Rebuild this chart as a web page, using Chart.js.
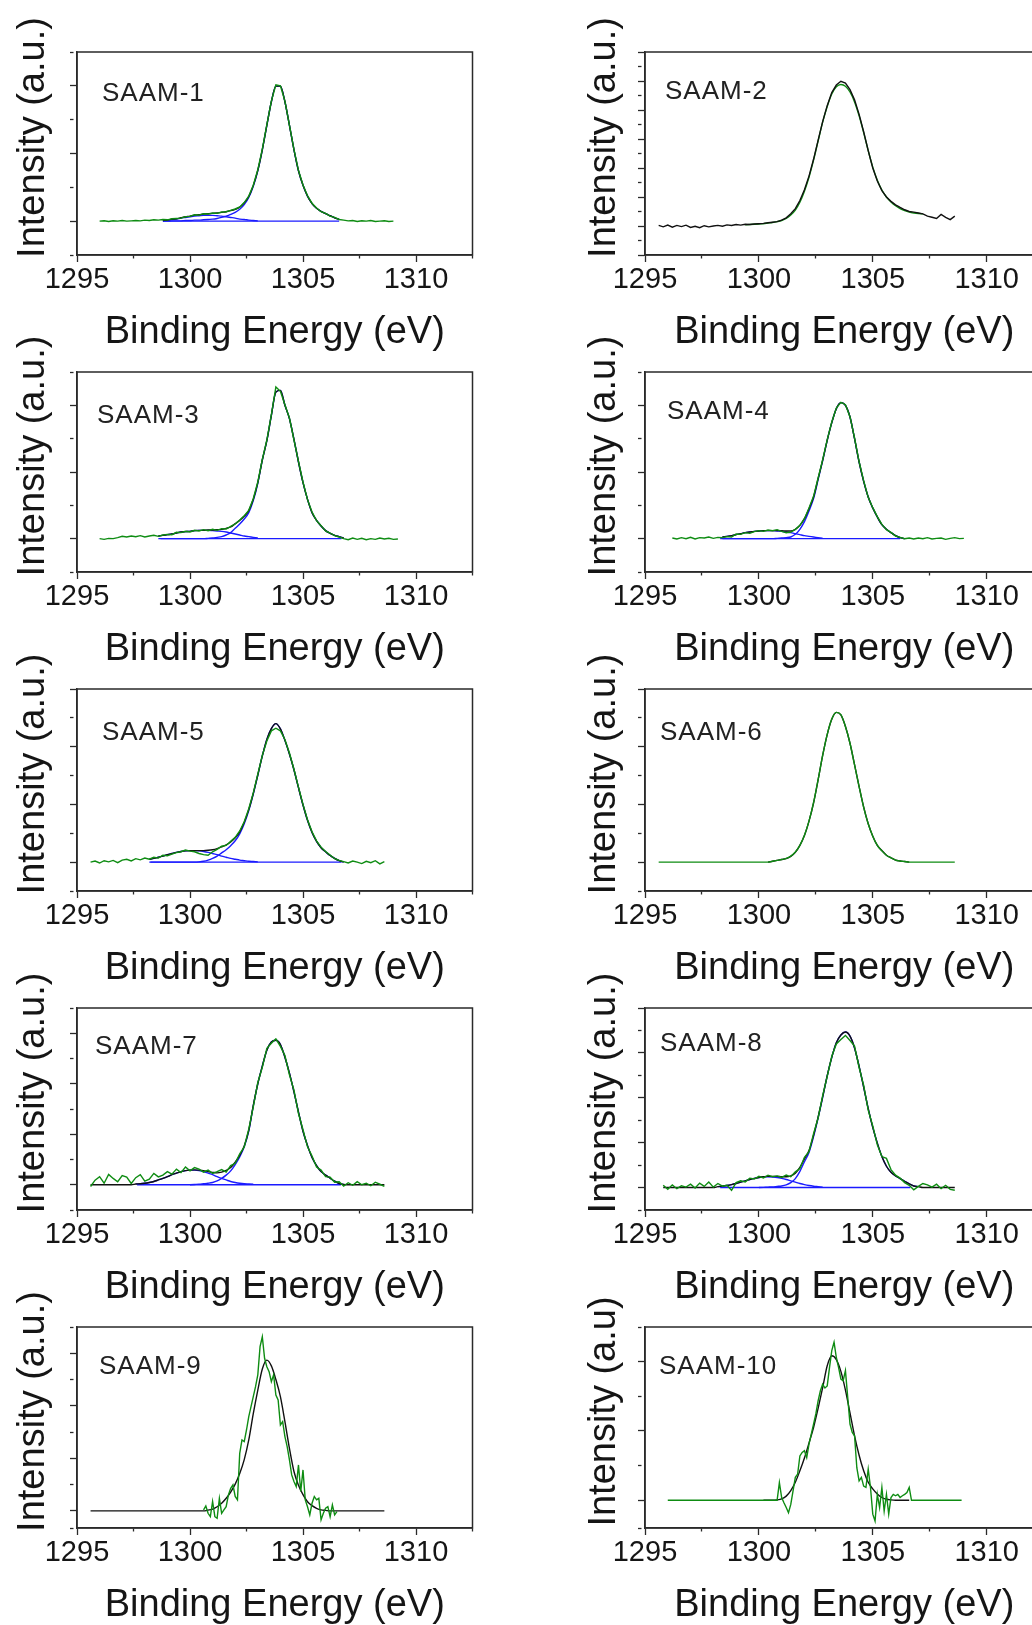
<!DOCTYPE html>
<html>
<head>
<meta charset="utf-8">
<title>SAAM XPS spectra</title>
<script src="https://cdn.jsdelivr.net/npm/chart.js@4.4.1/dist/chart.umd.min.js"></script>
<style>
  html, body { margin: 0; padding: 0; background: #fff; }
  #page { position: relative; width: 1032px; height: 1625px; overflow: hidden; background: #fff; }
  #page canvas { position: absolute; }
</style>
</head>
<body>
<div id="page"></div>
<script>
// binding energy sampling (eV)
const energyGrid = [
  1295.6, 1295.8, 1296.0, 1296.2, 1296.4, 1296.6, 1296.8, 1297.0, 1297.2, 1297.4,
  1297.6, 1297.8, 1298.0, 1298.2, 1298.4, 1298.6, 1298.8, 1299.0, 1299.2, 1299.4,
  1299.6, 1299.8, 1300.0, 1300.2, 1300.4, 1300.6, 1300.8, 1301.0, 1301.2, 1301.4,
  1301.6, 1301.8, 1302.0, 1302.2, 1302.4, 1302.6, 1302.8, 1303.0, 1303.2, 1303.4,
  1303.6, 1303.8, 1304.0, 1304.2, 1304.4, 1304.6, 1304.8, 1305.0, 1305.2, 1305.4,
  1305.6, 1305.8, 1306.0, 1306.2, 1306.4, 1306.6, 1306.8, 1307.0, 1307.2, 1307.4,
  1307.6, 1307.8, 1308.0, 1308.2, 1308.4, 1308.6, 1308.8, 1309.0, 1309.2
];
// finer sampling for the two noisy scans
const fineGrid = [
  1300.6, 1300.7, 1300.8, 1300.9, 1301.0, 1301.1, 1301.2, 1301.3, 1301.4, 1301.5,
  1301.6, 1301.7, 1301.8, 1301.9, 1302.0, 1302.1, 1302.2, 1302.3, 1302.4, 1302.5,
  1302.6, 1302.7, 1302.8, 1302.9, 1303.0, 1303.1, 1303.2, 1303.3, 1303.4, 1303.5,
  1303.6, 1303.7, 1303.8, 1303.9, 1304.0, 1304.1, 1304.2, 1304.3, 1304.4, 1304.5,
  1304.6, 1304.7, 1304.8, 1304.9, 1305.0, 1305.1, 1305.2, 1305.3, 1305.4, 1305.5,
  1305.6, 1305.7, 1305.8, 1305.9, 1306.0, 1306.1, 1306.2, 1306.3, 1306.4, 1306.5,
  1306.6, 1306.7, 1306.8
];
const BASE_LEVEL = 0;
const xTicks = { min: 1295, max: 1312.5, step: 2.5, labelEvery: 5 };

// SAAM-1 (raw from 1296.0, fit/components from 1298.8)
const saam1Raw = [0.00, 0.01, -0.01, 0.01, 0.00, 0.02, 0.00, 0.01, 0.02, 0.01, 0.03, 0.02, 0.04, 0.03,
  0.05, 0.04, 0.07, 0.08, 0.09, 0.13, 0.14, 0.19, 0.18, 0.22, 0.21, 0.24, 0.23, 0.27, 0.28, 0.32, 0.36, 0.42, 0.55, 0.74,
  1.06, 1.52, 2.13, 2.85, 3.55, 4.03, 4.00, 3.55, 2.84, 2.12, 1.50, 1.07, 0.75, 0.53, 0.39, 0.28, 0.23, 0.15, 0.11, 0.05,
  0.03, 0.01, 0.02, -0.01, 0.01, 0.00, 0.02, -0.01, 0.00, 0.01, -0.01, 0.00];
const saam1Fit = [0.02, 0.03, 0.06, 0.07, 0.10, 0.13, 0.15, 0.18, 0.19, 0.21, 0.22, 0.23, 0.24, 0.26, 0.28, 0.31, 0.35, 0.41, 0.54, 0.73,
  1.05, 1.50, 2.11, 2.83, 3.53, 3.99, 3.99, 3.53, 2.83, 2.11, 1.49, 1.06, 0.74, 0.52, 0.38, 0.29, 0.22, 0.16, 0.10, 0.05];
const saam1Main = [0, 0, 0.01, 0.01, 0.01, 0.02, 0.02, 0.03, 0.03, 0.04, 0.05, 0.06, 0.08, 0.11, 0.15, 0.20, 0.26, 0.35, 0.49, 0.70,
  1.03, 1.49, 2.11, 2.83, 3.53, 3.99, 3.99, 3.53, 2.83, 2.11, 1.49, 1.06, 0.74, 0.52, 0.38, 0.29, 0.22, 0.16, 0.10, 0.05];
const saam1Minor = [0.02, 0.03, 0.05, 0.06, 0.09, 0.11, 0.13, 0.15, 0.16, 0.17, 0.17, 0.17, 0.16, 0.15, 0.13, 0.11, 0.09, 0.06, 0.05, 0.03, 0.02, 0.01];
const saam1BaseEnds = [1298.8, 1306.6];

// SAAM-2 (raw from 1295.6, fit from 1299.4)
const saam2Raw = [0.02, -0.03, 0.03, -0.04, 0.02, -0.02, 0.03, -0.05, -0.01, -0.06, 0.01, -0.03, 0.00, 0.02, -0.01, 0.04, 0.02, 0.05, 0.03, 0.06,
  0.05, 0.07, 0.08, 0.09, 0.11, 0.13, 0.15, 0.20, 0.28, 0.42, 0.60, 0.88, 1.25, 1.72, 2.30, 2.95, 3.60, 4.15, 4.60, 4.86,
  4.99, 4.93, 4.70, 4.35, 3.85, 3.25, 2.60, 2.00, 1.55, 1.22, 1.00, 0.85, 0.73, 0.64, 0.56, 0.50, 0.48, 0.45, 0.42, 0.34,
  0.30, 0.26, 0.40, 0.30, 0.22, 0.34];
const saam2Fit = [0.04, 0.05, 0.06, 0.07, 0.08, 0.10, 0.12, 0.15, 0.19, 0.26, 0.38, 0.55, 0.82, 1.20, 1.68, 2.27, 2.93, 3.58, 4.12, 4.55,
  4.80, 4.88, 4.82, 4.62, 4.28, 3.80, 3.22, 2.60, 2.03, 1.58, 1.24, 1.00, 0.83, 0.70, 0.60, 0.53, 0.48, 0.45, 0.43, 0.42];

// SAAM-3 (raw from 1296.0, fit from 1298.6)
const saam3Raw = [0.00, -0.02, 0.01, 0.00, 0.03, 0.07, 0.05, 0.08, 0.06, 0.09, 0.05, 0.08, 0.10, 0.07,
  0.11, 0.13, 0.12, 0.19, 0.18, 0.22, 0.20, 0.25, 0.23, 0.27, 0.24, 0.28, 0.25, 0.30, 0.29, 0.37, 0.44, 0.56, 0.69, 0.85,
  1.20, 1.70, 2.38, 2.96, 3.72, 4.55, 4.42, 4.02, 3.62, 2.96, 2.32, 1.70, 1.17, 0.80, 0.54, 0.39, 0.23, 0.17, 0.09, 0.05,
  0.00, -0.03, 0.02, -0.02, 0.01, -0.03, 0.00, -0.02, 0.02, -0.01, 0.01, -0.02, -0.01];
const saam3Fit = [0.08, 0.10, 0.12, 0.14, 0.17, 0.20, 0.21, 0.22, 0.24, 0.25, 0.25, 0.26, 0.26, 0.27, 0.28, 0.31, 0.35, 0.45, 0.55, 0.67, 0.84,
  1.18, 1.68, 2.36, 2.94, 3.70, 4.40, 4.45, 4.00, 3.60, 2.98, 2.30, 1.68, 1.18, 0.78, 0.55, 0.38, 0.24, 0.16, 0.10, 0.06, 0.02];
const saam3Main = [0, 0, 0, 0, 0, 0, 0, 0, 0, 0, 0, 0.01, 0.02, 0.04, 0.06, 0.11, 0.18, 0.31, 0.44, 0.59, 0.78,
  1.14, 1.66, 2.36, 2.94, 3.70, 4.40, 4.45, 4.00, 3.60, 2.98, 2.30, 1.68, 1.18, 0.78, 0.55, 0.38, 0.24, 0.16, 0.10, 0.06, 0.02];
const saam3Minor = [0.08, 0.10, 0.12, 0.14, 0.17, 0.20, 0.21, 0.22, 0.24, 0.25, 0.25, 0.25, 0.24, 0.23, 0.22, 0.20, 0.17, 0.14, 0.11, 0.08, 0.06, 0.04, 0.02];
const saam3BaseEnds = [1298.7, 1306.7];

// SAAM-4 (raw from 1296.2, fit from 1298.4)
const saam4Raw = [0.02, -0.01, 0.03, 0.00, 0.04, -0.01, 0.03, 0.02, 0.05, 0.01, 0.04, 0.03, 0.06, 0.05,
  0.14, 0.13, 0.18, 0.16, 0.21, 0.24, 0.22, 0.26, 0.24, 0.27, 0.22, 0.18, 0.20, 0.28, 0.40, 0.60, 0.92, 1.27, 1.82, 2.37,
  2.97, 3.50, 3.92, 4.09, 4.02, 3.66, 3.02, 2.31, 1.74, 1.24, 0.93, 0.66, 0.43, 0.27, 0.19, 0.08, 0.04, 0.00, 0.02, -0.01,
  0.02, 0.00, 0.03, -0.01, 0.01, 0.02, -0.02, 0.01, 0.03, 0.00, 0.01];
const saam4Fit = [0.05, 0.07, 0.09, 0.12, 0.15, 0.18, 0.20, 0.22, 0.23, 0.24, 0.24, 0.24, 0.24, 0.24, 0.23, 0.23, 0.28, 0.40, 0.60, 0.90,
  1.25, 1.80, 2.35, 2.95, 3.48, 3.90, 4.08, 4.00, 3.65, 3.00, 2.30, 1.72, 1.25, 0.92, 0.65, 0.42, 0.28, 0.18, 0.09, 0.03, 0.00];
const saam4Main = [0, 0, 0, 0, 0, 0, 0, 0, 0, 0, 0, 0, 0.01, 0.02, 0.03, 0.05, 0.13, 0.28, 0.51, 0.83,
  1.20, 1.77, 2.34, 2.95, 3.48, 3.90, 4.08, 4.00, 3.65, 3.00, 2.30, 1.72, 1.25, 0.92, 0.65, 0.42, 0.28, 0.18, 0.09, 0.03, 0.00];
const saam4Minor = [0.05, 0.07, 0.09, 0.12, 0.15, 0.18, 0.20, 0.22, 0.23, 0.24, 0.24, 0.24, 0.23, 0.22, 0.20, 0.18, 0.15, 0.12, 0.09, 0.07, 0.05, 0.03, 0.01];
const saam4BaseEnds = [1298.3, 1306.2];

// SAAM-5 (raw from 1295.6, fit from 1298.2)
const saam5Raw = [0.00, 0.04, -0.03, 0.05, 0.01, 0.06, -0.02, 0.07, 0.10, 0.04, 0.12, 0.08, 0.14, 0.10, 0.17, 0.14, 0.24, 0.22, 0.28, 0.33,
  0.36, 0.42, 0.38, 0.36, 0.30, 0.26, 0.24, 0.36, 0.44, 0.55, 0.58, 0.72, 0.86, 1.08, 1.40, 1.85, 2.40, 3.05, 3.70, 4.20,
  4.55, 4.64, 4.55, 4.25, 3.78, 3.22, 2.60, 2.00, 1.47, 1.05, 0.74, 0.52, 0.37, 0.25, 0.12, 0.06, 0.02, -0.03, 0.04, 0.00,
  -0.05, 0.03, -0.02, 0.05, -0.06, 0.02];
const saam5Fit = [0.10, 0.13, 0.17, 0.21, 0.26, 0.30, 0.34, 0.37, 0.39, 0.40, 0.40, 0.40, 0.40, 0.41, 0.43, 0.47, 0.53, 0.60, 0.70, 0.84, 1.05, 1.38,
  1.82, 2.38, 3.02, 3.68, 4.25, 4.63, 4.80, 4.62, 4.22, 3.75, 3.20, 2.58, 1.98, 1.45, 1.03, 0.72, 0.50, 0.36, 0.23, 0.13, 0.05, 0.00];
const saam5Main = [0, 0, 0, 0, 0, 0, 0, 0, 0, 0, 0, 0.01, 0.03, 0.07, 0.13, 0.21, 0.32, 0.43, 0.57, 0.74, 0.98, 1.33,
  1.79, 2.36, 3.01, 3.68, 4.25, 4.63, 4.80, 4.62, 4.22, 3.75, 3.20, 2.58, 1.98, 1.45, 1.03, 0.72, 0.50, 0.36, 0.23, 0.13, 0.05, 0.00];
const saam5Minor = [0.10, 0.13, 0.17, 0.21, 0.26, 0.30, 0.34, 0.37, 0.39, 0.40, 0.40, 0.39, 0.37, 0.34, 0.30, 0.26, 0.21, 0.17, 0.13, 0.10, 0.07, 0.05, 0.03, 0.02, 0.01];
const saam5BaseEnds = [1298.25, 1306.7];

// SAAM-6 (raw from 1295.6, fit from 1300.4)
const saam6Raw = [0, 0, 0, 0, 0, 0, 0, 0, 0, 0, 0, 0, 0, 0, 0, 0, 0, 0, 0, 0, 0, 0, 0, 0,
  0.00, 0.03, 0.06, 0.09, 0.13, 0.21, 0.35, 0.58, 0.93, 1.42, 2.06, 2.86, 3.70, 4.43, 4.96, 5.19, 5.11, 4.70, 4.12, 3.37,
  2.62, 1.90, 1.33, 0.90, 0.58, 0.39, 0.24, 0.15, 0.07, 0.04, 0.02, 0.00,
  0, 0, 0, 0, 0, 0, 0, 0, 0, 0];
const saam6Fit = [0.00, 0.03, 0.06, 0.09, 0.12, 0.20, 0.34, 0.58, 0.92, 1.42, 2.05, 2.85, 3.70, 4.42, 4.95, 5.19, 5.10, 4.70, 4.12, 3.38,
  2.62, 1.91, 1.33, 0.90, 0.58, 0.40, 0.24, 0.15, 0.07, 0.04, 0.02, 0.00];

// SAAM-7 (raw and fit from 1295.6, main from 1300.0, minor from 1297.6)
const saam7Raw = [-0.07, 0.18, 0.32, 0.06, 0.41, 0.25, 0.12, 0.36, 0.30, 0.05, 0.28, 0.40, 0.14, 0.22, 0.45, 0.31, 0.38, 0.52, 0.42, 0.62,
  0.48, 0.70, 0.55, 0.68, 0.62, 0.50, 0.58, 0.45, 0.52, 0.60, 0.50, 0.76, 0.85, 1.22, 1.50, 2.20, 3.08, 4.05, 4.65, 5.40,
  5.60, 5.78, 5.48, 5.12, 4.35, 3.75, 2.82, 2.18, 1.50, 1.14, 0.70, 0.58, 0.32, 0.30, 0.10, 0.12, -0.05, 0.08, -0.02, 0.12,
  0.00, 0.06, -0.04, 0.10, 0.02, -0.06];
const saam7Fit = [0, 0, 0, 0, 0, 0, 0, 0, 0, 0,
  0.03, 0.04, 0.06, 0.09, 0.13, 0.19, 0.25, 0.32, 0.40, 0.46, 0.52, 0.56, 0.58, 0.59, 0.58, 0.56, 0.52, 0.49, 0.47, 0.50,
  0.57, 0.68, 0.89, 1.16, 1.54, 2.15, 3.14,
  4.00, 4.70, 5.33, 5.65, 5.72, 5.55, 5.05, 4.42, 3.68, 2.88, 2.12, 1.55, 1.08, 0.76, 0.52, 0.38, 0.26, 0.14, 0.05, 0.01,
  0, 0, 0, 0, 0, 0, 0, 0, 0];
const saam7Main = [0.00, 0.01, 0.02, 0.04, 0.06, 0.09, 0.15, 0.25, 0.38, 0.55, 0.80, 1.10, 1.50, 2.12, 3.12,
  4.00, 4.70, 5.33, 5.65, 5.72, 5.55, 5.05, 4.42, 3.68, 2.88, 2.12, 1.55, 1.08, 0.76, 0.52, 0.38, 0.26, 0.14, 0.05, 0.01];
const saam7Minor = [0.03, 0.04, 0.06, 0.09, 0.13, 0.19, 0.25, 0.32, 0.40, 0.46, 0.52, 0.56, 0.58, 0.58, 0.56, 0.52, 0.46, 0.40, 0.32, 0.25,
  0.19, 0.13, 0.09, 0.06, 0.04, 0.03, 0.02];
const saam7BaseEnds = [1297.66, 1306.68];

// SAAM-8 (raw and fit from 1295.8, main from 1300.0, minor from 1298.2)
const saam8Raw = [0.10, -0.08, 0.12, -0.05, 0.08, 0.02, 0.15, -0.02, 0.20, 0.05, 0.25, 0.02, 0.18, 0.06, 0.10, -0.12, 0.22, 0.30, 0.25, 0.42,
  0.38, 0.50, 0.43, 0.55, 0.48, 0.52, 0.45, 0.56, 0.48, 0.70, 0.85, 1.35, 1.60, 2.40, 3.10, 4.10, 4.95, 5.85, 6.40, 6.60,
  6.78, 6.55, 6.30, 5.35, 4.55, 3.45, 2.75, 1.90, 1.38, 1.30, 0.80, 0.55, 0.42, 0.22, 0.10, -0.10, 0.05, 0.18, 0.12, 0.02,
  0.15, -0.05, 0.10, -0.08, -0.12];
const saam8Fit = [0, 0, 0, 0, 0, 0, 0, 0, 0, 0, 0, 0,
  0.04, 0.06, 0.09, 0.13, 0.18, 0.24, 0.30, 0.36, 0.41, 0.45, 0.48, 0.50, 0.50, 0.50, 0.48, 0.48, 0.52, 0.64, 0.90, 1.28,
  1.65, 2.33, 3.14, 4.04,
  4.98, 5.80, 6.45, 6.80, 6.93, 6.75, 6.22, 5.40, 4.48, 3.52, 2.68, 1.98, 1.38, 0.95, 0.68, 0.52, 0.40, 0.28, 0.16, 0.07, 0.04,
  0, 0, 0, 0, 0, 0, 0, 0];
const saam8Main = [0.00, 0.01, 0.02, 0.03, 0.05, 0.07, 0.12, 0.22, 0.40, 0.72, 1.15, 1.56, 2.27, 3.10, 4.02,
  4.98, 5.80, 6.45, 6.80, 6.93, 6.75, 6.22, 5.40, 4.48, 3.52, 2.68, 1.98, 1.38, 0.95, 0.68, 0.52, 0.40, 0.28, 0.16, 0.07, 0.04];
const saam8Minor = [0.04, 0.06, 0.09, 0.13, 0.18, 0.24, 0.30, 0.36, 0.41, 0.45, 0.47, 0.48, 0.47, 0.45, 0.41, 0.36, 0.30, 0.24, 0.18, 0.13,
  0.09, 0.06, 0.04, 0.02];
const saam8BaseEnds = [1298.3, 1306.65];

// SAAM-9 (raw on fine grid from 1300.6, fit from 1295.6)
const saam9Raw = [0.04, 0.19, -0.09, -0.22, 0.36, -0.22, -0.28, 0.48, -0.09, 0.04,
  0.16, 0.61, 0.86, 0.99, 0.55, 0.42, 2.19, 2.70, 2.64, 3.08,
  3.59, 3.97, 4.35, 4.73, 5.18, 6.25, 6.63, 5.81, 5.49, 5.30,
  4.92, 5.18, 4.41, 4.22, 3.27, 3.40, 2.83, 2.45, 1.94, 1.37,
  1.12, 0.93, 1.75, 0.74, 1.56, 0.42, 0.16, -0.15, 0.29, 0.55,
  0.42, 0.48, -0.34, -0.09, 0.10, 0.16, -0.22, 0.23, -0.15, -0.03];
const saam9Fit = [0, 0, 0, 0, 0, 0, 0, 0, 0, 0, 0, 0, 0, 0, 0, 0, 0, 0, 0, 0, 0, 0, 0, 0, 0, 0,
  0.03, 0.07, 0.16, 0.29, 0.48, 0.72, 1.02, 1.42, 1.95, 2.70, 3.70, 4.60, 5.40, 5.74, 5.52, 5.00, 4.35, 3.40, 2.38, 1.50,
  0.98, 0.62, 0.35, 0.20, 0.10, 0.04, 0.02,
  0, 0, 0, 0, 0, 0, 0, 0, 0, 0, 0, 0, 0];

// SAAM-10 (raw on fine grid from 1300.8 with flat ends, fit from 1300.2)
const saam10Raw = [0.00, 0.51, 0.08, -0.07, -0.21, -0.36, -0.12, 0.27, 0.66, 0.75,
  1.28, 1.38, 1.43, 1.23, 1.62, 1.91, 2.20, 2.49, 2.87, 3.16,
  3.35, 3.24, 3.30, 3.83, 4.32, 4.56, 4.12, 3.83, 3.50, 3.45,
  3.74, 2.97, 2.20, 1.96, 1.86, 0.94, 0.56, 0.66, 0.41, 0.37,
  0.90, 0.37, -0.40, -0.60, 0.17, -0.21, 0.37, -0.31, 0.17, -0.40,
  0.08, 0.17, 0.13, 0.17, 0.08, 0.13, 0.17, 0.22, 0.37, 0.00];
const saam10RawEnds = [1296.0, 1308.9];
const saam10Fit = [0.00, 0.00, 0.00, 0.01, 0.04, 0.12, 0.28, 0.52, 0.85, 1.22, 1.65, 2.10, 2.65, 3.25, 3.88, 4.17, 4.06,
  3.72, 3.18, 2.52, 1.86, 1.30, 0.85, 0.52, 0.33, 0.18, 0.08, 0.03, 0.01, 0.00, 0.00, 0.00, 0.00];

const FONT = "'Liberation Sans', Arial, Helvetica, sans-serif";
const GREEN = '#0e8c12';
const BLACK = '#111111';
const BLUE = '#1b1bff';
const INK = '#151515';

Chart.defaults.font.family = FONT;

// frame box, sample name and rotated y title
const panelDecor = {
  id: 'panelDecor',
  afterDraw(chart, args, opts) {
    const { ctx, chartArea: a } = chart;
    ctx.save();
    ctx.strokeStyle = '#2a2a2a';
    ctx.lineWidth = 1.5;
    ctx.strokeRect(a.left, a.top, a.right - a.left, a.bottom - a.top);

    ctx.fillStyle = '#222';
    ctx.font = '26px ' + FONT;
    ctx.letterSpacing = '1px';
    ctx.textAlign = 'left';
    ctx.textBaseline = 'alphabetic';
    ctx.fillText(opts.label, a.left + opts.dx, a.top + opts.dy);

    ctx.letterSpacing = '0px';
    ctx.fillStyle = INK;
    ctx.font = '38px ' + FONT;
    ctx.translate(opts.titleX, (a.top + a.bottom) / 2 - 16);
    ctx.rotate(-Math.PI / 2);
    ctx.textAlign = 'center';
    ctx.fillText(opts.yTitle, 0, 0);
    ctx.restore();
  }
};

function line(grid, from, values, color, smooth) {
  return {
    data: values.map((v, k) => ({ x: grid[from + k], y: v })),
    borderColor: color,
    borderWidth: 1.4,
    pointRadius: 0,
    fill: false,
    tension: smooth ? 0.3 : 0,
    cubicInterpolationMode: smooth ? 'monotone' : 'default'
  };
}

function flat(ends, color) {
  return line(ends, 0, ends.map(() => BASE_LEVEL), color, false);
}

// datasets listed top-most first
const panels = [
  { label: 'SAAM-1', col: 0, row: 0, yMin: -1, yMax: 5, yStep: 1, yMajor: 2, dx: 25, dy: 49,
    series: [line(energyGrid, 2, saam1Raw, GREEN), line(energyGrid, 16, saam1Fit, BLACK, true),
      line(energyGrid, 16, saam1Main, BLUE, true), line(energyGrid, 16, saam1Minor, BLUE, true), flat(saam1BaseEnds, BLUE)] },
  { label: 'SAAM-2', col: 1, row: 0, yMin: -1, yMax: 6, yStep: 0.5, yMajor: 1, dx: 20, dy: 47,
    series: [line(energyGrid, 0, saam2Raw, BLACK), line(energyGrid, 19, saam2Fit, GREEN, true)] },
  { label: 'SAAM-3', col: 0, row: 1, yMin: -1, yMax: 5, yStep: 1, yMajor: 2, dx: 20, dy: 51,
    series: [line(energyGrid, 2, saam3Raw, GREEN), line(energyGrid, 15, saam3Fit, BLACK, true),
      line(energyGrid, 15, saam3Main, BLUE, true), line(energyGrid, 15, saam3Minor, BLUE, true), flat(saam3BaseEnds, BLUE)] },
  { label: 'SAAM-4', col: 1, row: 1, yMin: -1, yMax: 5, yStep: 1, yMajor: 2, dx: 22, dy: 47,
    series: [line(energyGrid, 3, saam4Raw, GREEN), line(energyGrid, 14, saam4Fit, BLACK, true),
      line(energyGrid, 14, saam4Main, BLUE, true), line(energyGrid, 14, saam4Minor, BLUE, true), flat(saam4BaseEnds, BLUE)] },
  { label: 'SAAM-5', col: 0, row: 2, yMin: -1, yMax: 6, yStep: 1, yMajor: 2, dx: 25, dy: 51,
    series: [line(energyGrid, 0, saam5Raw, GREEN), line(energyGrid, 13, saam5Fit, BLACK, true),
      line(energyGrid, 13, saam5Main, BLUE, true), line(energyGrid, 13, saam5Minor, BLUE, true), flat(saam5BaseEnds, BLUE)] },
  { label: 'SAAM-6', col: 1, row: 2, yMin: -1, yMax: 6, yStep: 1, yMajor: 2, dx: 15, dy: 51,
    series: [line(energyGrid, 0, saam6Raw, GREEN, true), line(energyGrid, 24, saam6Fit, BLACK, true)] },
  { label: 'SAAM-7', col: 0, row: 3, yMin: -1, yMax: 7, yStep: 1, yMajor: 2, dx: 18, dy: 46,
    series: [line(energyGrid, 0, saam7Raw, GREEN), line(energyGrid, 0, saam7Fit, BLACK, true),
      line(energyGrid, 22, saam7Main, BLUE, true), line(energyGrid, 10, saam7Minor, BLUE, true), flat(saam7BaseEnds, BLUE)] },
  { label: 'SAAM-8', col: 1, row: 3, yMin: -1, yMax: 8, yStep: 1, yMajor: 2, dx: 15, dy: 43,
    series: [line(energyGrid, 1, saam8Raw, GREEN), line(energyGrid, 1, saam8Fit, BLACK, true),
      line(energyGrid, 22, saam8Main, BLUE, true), line(energyGrid, 13, saam8Minor, BLUE, true), flat(saam8BaseEnds, BLUE)] },
  { label: 'SAAM-9', col: 0, row: 4, yMin: -0.65, yMax: 7, yStep: 1, yMajor: 2, dx: 22, dy: 47,
    series: [line(fineGrid, 0, saam9Raw, GREEN), line(energyGrid, 0, saam9Fit, BLACK, true)] },
  { label: 'SAAM-10', col: 1, row: 4, yMin: -0.8, yMax: 5, yStep: 1, yMajor: 2, dx: 14, dy: 47, yTitle: 'Intensity (a.u)',
    series: [
      (() => {
        const ds = line(fineGrid, 2, saam10Raw, GREEN);
        ds.data = [{ x: saam10RawEnds[0], y: BASE_LEVEL }].concat(ds.data, [{ x: saam10RawEnds[1], y: BASE_LEVEL }]);
        return ds;
      })(),
      line(energyGrid, 23, saam10Fit, BLACK, true)] }
];

// page layout of the 2 x 5 grid
const rowTops = [52, 372, 689, 1008, 1327];
const rowBottoms = [255, 572, 891, 1210, 1528];
const columns = [
  { left: 0, boxLeft: 77, boxRight: 472.5, titleX: 43.5 },
  { left: 568, boxLeft: 77, boxRight: 475.6, titleX: 47 }
];
const CANVAS_W = 520;
const TOP_PAD = 52;
const X_AXIS_H = 100;

function isMajor(value, major) {
  const r = value / major;
  return Math.abs(r - Math.round(r)) < 1e-6;
}

const page = document.getElementById('page');

panels.forEach(function (p) {
  const col = columns[p.col];
  const boxH = rowBottoms[p.row] - rowTops[p.row];
  const canvas = document.createElement('canvas');
  canvas.width = CANVAS_W;
  canvas.height = TOP_PAD + boxH + X_AXIS_H;
  canvas.style.left = col.left + 'px';
  canvas.style.top = (rowTops[p.row] - TOP_PAD) + 'px';
  page.appendChild(canvas);

  new Chart(canvas.getContext('2d'), {
    type: 'line',
    data: { datasets: p.series },
    options: {
      responsive: false,
      animation: false,
      devicePixelRatio: 1,
      layout: { padding: { left: 0, top: TOP_PAD, right: CANVAS_W - col.boxRight, bottom: 0 } },
      plugins: {
        legend: { display: false },
        tooltip: { enabled: false },
        panelDecor: { label: p.label, dx: p.dx, dy: p.dy, titleX: col.titleX, yTitle: p.yTitle || 'Intensity (a.u.)' }
      },
      scales: {
        x: {
          type: 'linear',
          min: xTicks.min,
          max: xTicks.max,
          afterFit: function (scale) { scale.height = X_AXIS_H; },
          ticks: {
            stepSize: xTicks.step,
            autoSkip: false,
            maxRotation: 0,
            minRotation: 0,
            padding: 2,
            color: INK,
            font: { size: 29, lineHeight: 1.1 },
            callback: function (v) { return isMajor(v, xTicks.labelEvery) ? String(v) : ''; }
          },
          grid: {
            drawOnChartArea: false,
            tickLength: 7,
            tickWidth: 1.3,
            tickColor: '#2a2a2a',
            tickBorderDash: function (c) { return c.tick && isMajor(c.tick.value, xTicks.labelEvery) ? [] : [3, 20]; }
          },
          border: { display: true, color: '#2a2a2a', width: 1.5 },
          title: {
            display: true,
            text: 'Binding Energy (eV)',
            color: INK,
            font: { size: 38, lineHeight: 1.2 },
            padding: { top: 0, bottom: 0 }
          }
        },
        y: {
          type: 'linear',
          min: p.yMin,
          max: p.yMax,
          afterFit: function (scale) { scale.width = col.boxLeft; },
          ticks: { stepSize: p.yStep, display: false },
          grid: {
            drawOnChartArea: false,
            tickLength: 7,
            tickWidth: 1.3,
            tickColor: '#2a2a2a',
            tickBorderDash: function (c) { return c.tick && isMajor(c.tick.value, p.yMajor) ? [] : [3.5, 20]; }
          },
          border: { display: true, color: '#2a2a2a', width: 1.5 }
        }
      }
    },
    plugins: [panelDecor]
  });
});
</script>
</body>
</html>
